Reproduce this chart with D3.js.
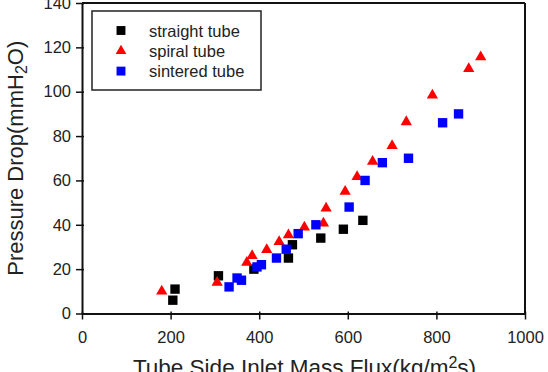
<!DOCTYPE html>
<html>
<head>
<meta charset="utf-8">
<script src="https://cdn.jsdelivr.net/npm/d3@7"></script>
<style>
  html, body { margin: 0; padding: 0; background: #fff; }
  svg { display: block; }
  text { font-family: "Liberation Sans", Arial, Helvetica, sans-serif; fill: #222; }
</style>
</head>
<body>
<svg id="chart" width="548" height="372"></svg>
<script>
// ---- data ----
const straightX = [205, 210, 308, 388, 466, 475, 539, 590, 634];
const straightY = [6, 11, 17, 20, 25, 31, 34, 38, 42];

const spiralX = [180, 305, 372, 384, 417, 445, 466, 502, 545, 551, 594, 621, 656, 700, 732, 791, 873, 900];
const spiralY = [10, 14, 23, 26, 28.7, 32.4, 35.4, 38.9, 40.7, 47.5, 55, 61.7, 68.5, 75.6, 86.4, 98.4, 110.4, 115.6];

const sinteredX = [332, 350, 360, 395, 405, 439, 461, 488, 528, 603, 639, 678, 737, 814, 850];
const sinteredY = [12, 16, 15, 21, 22, 25, 29, 36, 40, 48, 60, 68, 70, 86, 90];

const xTicks = [0, 200, 400, 600, 800, 1000];
const yTicks = [0, 20, 40, 60, 80, 100, 120, 140];

const seriesNames = ["straight tube", "spiral tube", "sintered tube"];

// ---- layout ----
const svg = d3.select("#chart");
const pLeft = 82, pRight = 525, pTop = 3, pBottom = 313.5;

const x = d3.scaleLinear().domain([0, 1000]).range([pLeft, pRight]);
const y = d3.scaleLinear().domain([0, 140]).range([pBottom, pTop]);

const series = [
  { name: seriesNames[0], xs: straightX, ys: straightY, color: "#000000", shape: d3.symbolSquare, size: 88 },
  { name: seriesNames[1], xs: spiralX, ys: spiralY, color: "#ff0000", shape: d3.symbolTriangle, size: 55 },
  { name: seriesNames[2], xs: sinteredX, ys: sinteredY, color: "#0000ff", shape: d3.symbolSquare, size: 88 }
];

// frame (top & right)
svg.append("line").attr("x1", pLeft).attr("x2", pRight).attr("y1", pTop).attr("y2", pTop)
  .attr("stroke", "#111").attr("stroke-width", 2);
svg.append("line").attr("x1", pRight).attr("x2", pRight).attr("y1", pTop).attr("y2", pBottom)
  .attr("stroke", "#111").attr("stroke-width", 2);

// axes
const fmt = d3.format("d");
const xAxis = svg.append("g").attr("transform", `translate(0,${pBottom})`)
  .call(d3.axisBottom(x).tickValues(xTicks).tickFormat(fmt).tickSizeInner(6).tickSizeOuter(0).tickPadding(12));
const yAxis = svg.append("g").attr("transform", `translate(${pLeft},0)`)
  .call(d3.axisLeft(y).tickValues(yTicks).tickFormat(fmt).tickSizeInner(6).tickSizeOuter(0).tickPadding(5));

[xAxis, yAxis].forEach(g => {
  g.select(".domain").attr("stroke", "#111").attr("stroke-width", 2);
  g.selectAll(".tick line").attr("stroke", "#111").attr("stroke-width", 1.5);
  g.selectAll(".tick text").style("font-size", "16.5px").attr("fill", "#333");
});
xAxis.selectAll(".tick line").attr("y1", -2);
yAxis.selectAll(".tick line").attr("x1", 2);

// points: draw black, red, blue
series.forEach(s => {
  const sym = d3.symbol().type(s.shape).size(s.size);
  svg.append("g").selectAll("path")
    .data(s.xs.map((v, i) => [v, s.ys[i]]))
    .join("path")
    .attr("d", sym)
    .attr("transform", d => `translate(${x(d[0])},${y(d[1])})`)
    .attr("fill", s.color);
});

// legend
const lg = svg.append("g");
lg.append("rect").attr("x", 92).attr("y", 11).attr("width", 169).attr("height", 79)
  .attr("fill", "#fff").attr("stroke", "#222").attr("stroke-width", 1.5);
series.forEach((s, i) => {
  const cy = 30.5 + i * 20.3;
  lg.append("path").attr("d", d3.symbol().type(s.shape).size(s.size * 0.9)())
    .attr("transform", `translate(121,${cy})`).attr("fill", s.color);
  lg.append("text").attr("x", 149).attr("y", cy + 6)
    .style("font-size", "16.5px").attr("fill", "#333").text(s.name);
});

// axis titles
const xt = svg.append("text").attr("x", (pLeft + pRight) / 2 + 1).attr("y", 375)
  .attr("text-anchor", "middle").style("font-size", "22.5px").attr("fill", "#333");
xt.append("tspan").text("Tube Side Inlet Mass Flux(kg/m");
xt.append("tspan").attr("dy", -7).style("font-size", "16px").text("2");
xt.append("tspan").attr("dy", 7).text("s)");

const yt = svg.append("text")
  .attr("transform", `translate(23,${(pTop + pBottom) / 2}) rotate(-90)`)
  .attr("text-anchor", "middle").style("font-size", "22px").attr("fill", "#333");
yt.append("tspan").text("Pressure Drop(mmH");
yt.append("tspan").attr("dy", 4).style("font-size", "16px").text("2");
yt.append("tspan").attr("dy", -4).text("O)");
</script>
</body>
</html>
